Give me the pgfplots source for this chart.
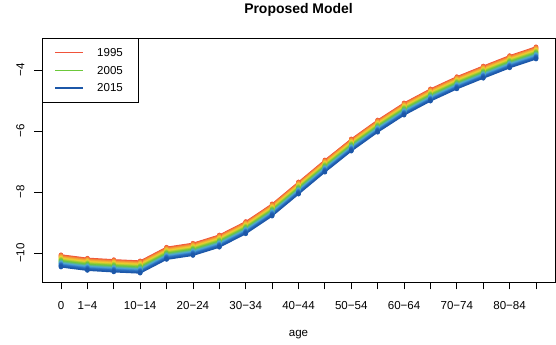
\documentclass[border=0pt]{standalone}
\usepackage{fontspec}
\setmainfont{Liberation Sans}
\usepackage{pgfplots}
\usepackage{pgfplotstable}
\pgfplotsset{compat=1.18}

% log mortality rate by age group (rows) and year (columns)
\pgfplotstableread{
age y1995 y1996 y1997 y1998 y1999 y2000 y2001 y2002 y2003 y2004 y2005 y2006 y2007 y2008 y2009 y2010 y2011 y2012 y2013 y2014 y2015
0  -10.06 -10.08 -10.10 -10.12 -10.14 -10.16 -10.18 -10.20 -10.22 -10.24 -10.26 -10.28 -10.30 -10.32 -10.34 -10.36 -10.38 -10.40 -10.42 -10.44 -10.46
1  -10.17 -10.19 -10.21 -10.23 -10.25 -10.27 -10.29 -10.31 -10.33 -10.35 -10.37 -10.39 -10.41 -10.43 -10.45 -10.47 -10.49 -10.51 -10.53 -10.55 -10.57
2  -10.22 -10.24 -10.26 -10.28 -10.30 -10.32 -10.34 -10.36 -10.38 -10.40 -10.42 -10.44 -10.46 -10.48 -10.50 -10.52 -10.54 -10.56 -10.58 -10.60 -10.62
3  -10.26 -10.28 -10.30 -10.32 -10.34 -10.36 -10.38 -10.40 -10.42 -10.44 -10.46 -10.48 -10.50 -10.52 -10.54 -10.56 -10.58 -10.60 -10.62 -10.64 -10.66
4  -9.81 -9.83 -9.85 -9.87 -9.89 -9.91 -9.93 -9.95 -9.97 -9.99 -10.01 -10.03 -10.05 -10.07 -10.09 -10.11 -10.13 -10.15 -10.17 -10.19 -10.21
5  -9.68 -9.70 -9.72 -9.74 -9.76 -9.78 -9.80 -9.82 -9.84 -9.86 -9.88 -9.90 -9.92 -9.94 -9.96 -9.98 -10.00 -10.02 -10.04 -10.06 -10.08
6  -9.41 -9.43 -9.45 -9.47 -9.49 -9.51 -9.53 -9.55 -9.57 -9.59 -9.61 -9.63 -9.65 -9.67 -9.69 -9.71 -9.73 -9.75 -9.77 -9.79 -9.81
7  -8.97 -8.99 -9.01 -9.03 -9.05 -9.07 -9.09 -9.11 -9.13 -9.15 -9.17 -9.19 -9.21 -9.23 -9.25 -9.27 -9.29 -9.31 -9.33 -9.35 -9.37
8  -8.39 -8.41 -8.43 -8.45 -8.47 -8.49 -8.51 -8.53 -8.55 -8.57 -8.59 -8.61 -8.63 -8.65 -8.67 -8.69 -8.71 -8.73 -8.75 -8.77 -8.79
9  -7.67 -7.69 -7.71 -7.73 -7.75 -7.77 -7.79 -7.81 -7.83 -7.85 -7.87 -7.89 -7.91 -7.93 -7.95 -7.97 -7.99 -8.01 -8.03 -8.05 -8.07
10 -6.95 -6.97 -6.99 -7.01 -7.03 -7.05 -7.07 -7.09 -7.11 -7.13 -7.15 -7.17 -7.19 -7.21 -7.23 -7.25 -7.27 -7.29 -7.31 -7.33 -7.35
11 -6.26 -6.28 -6.30 -6.32 -6.34 -6.36 -6.38 -6.40 -6.42 -6.44 -6.46 -6.48 -6.50 -6.52 -6.54 -6.56 -6.58 -6.60 -6.62 -6.64 -6.66
12 -5.64 -5.66 -5.68 -5.70 -5.72 -5.74 -5.76 -5.78 -5.80 -5.82 -5.84 -5.86 -5.88 -5.90 -5.92 -5.94 -5.96 -5.98 -6.00 -6.02 -6.04
13 -5.08 -5.10 -5.12 -5.14 -5.16 -5.18 -5.20 -5.22 -5.24 -5.26 -5.28 -5.30 -5.32 -5.34 -5.36 -5.38 -5.40 -5.42 -5.44 -5.46 -5.48
14 -4.62 -4.64 -4.66 -4.68 -4.70 -4.72 -4.74 -4.76 -4.78 -4.80 -4.82 -4.84 -4.86 -4.88 -4.90 -4.92 -4.94 -4.96 -4.98 -5.00 -5.02
15 -4.22 -4.24 -4.26 -4.28 -4.30 -4.32 -4.34 -4.36 -4.38 -4.40 -4.42 -4.44 -4.46 -4.48 -4.50 -4.52 -4.54 -4.56 -4.58 -4.60 -4.62
16 -3.87 -3.89 -3.91 -3.93 -3.95 -3.97 -3.99 -4.01 -4.03 -4.05 -4.07 -4.09 -4.11 -4.13 -4.15 -4.17 -4.19 -4.21 -4.23 -4.25 -4.27
17 -3.53 -3.55 -3.57 -3.59 -3.61 -3.63 -3.65 -3.67 -3.69 -3.71 -3.73 -3.75 -3.77 -3.79 -3.81 -3.83 -3.85 -3.87 -3.89 -3.91 -3.93
18 -3.24 -3.26 -3.28 -3.30 -3.32 -3.34 -3.36 -3.38 -3.40 -3.42 -3.44 -3.46 -3.48 -3.50 -3.52 -3.54 -3.56 -3.58 -3.60 -3.62 -3.64
}\ratetable

% rainbow palette running from 1995 (red) to 2015 (blue)
\definecolor{kR}{HTML}{F0533A}
\definecolor{kO}{HTML}{F59B36}
\definecolor{kY}{HTML}{EDD12E}
\definecolor{kG}{HTML}{6CC83A}
\definecolor{kL}{HTML}{4DA6D9}
\definecolor{kB}{HTML}{2A6FC0}
\definecolor{kD}{HTML}{1C57A8}
\colorlet{c1995}{kR}
\colorlet{c1996}{kR!67!kO}
\colorlet{c1997}{kR!33!kO}
\colorlet{c1998}{kO}
\colorlet{c1999}{kO!67!kY}
\colorlet{c2000}{kO!33!kY}
\colorlet{c2001}{kY}
\colorlet{c2002}{kY!75!kG}
\colorlet{c2003}{kY!50!kG}
\colorlet{c2004}{kY!25!kG}
\colorlet{c2005}{kG}
\colorlet{c2006}{kG!75!kL}
\colorlet{c2007}{kG!50!kL}
\colorlet{c2008}{kG!25!kL}
\colorlet{c2009}{kL}
\colorlet{c2010}{kL!67!kB}
\colorlet{c2011}{kL!33!kB}
\colorlet{c2012}{kB}
\colorlet{c2013}{kB!67!kD}
\colorlet{c2014}{kB!33!kD}
\colorlet{c2015}{kD}

\begin{document}
\begin{tikzpicture}
% page frame: the axis box sits at (0,0)-(513bp,244bp)
\useasboundingbox (-42bp,-63bp) rectangle (514bp,282bp);
\begin{axis}[
  at={(0,0)}, anchor=south west,
  scale only axis,
  width=513bp, height=244bp,
  xmin=-0.72, xmax=18.72,
  ymin=-10.951, ymax=-2.951,
  axis line style={line width=0.8bp},
  tick style={line width=0.8bp, black},
  tick align=outside,
  major tick length=7.5bp,
  xtick={0,...,18},
  xticklabels={0,1−4,,10−14,,20−24,,30−34,,40−44,,50−54,,60−64,,70−74,,80−84,},
  ytick={-10,-8,-6,-4},
  yticklabels={−10,−8,−6,−4},
  xtick pos=bottom, ytick pos=left,
  font=\fontsize{11.6}{14}\selectfont,
  xticklabel style={anchor=base, yshift=-19.5bp},
  yticklabel style={rotate=90, anchor=base, yshift=10bp},
  xlabel={age},
  xlabel style={at={(axis description cs:0.5,0)}, anchor=base, yshift=-54bp},
  title={\bfseries Proposed Model},
  title style={at={(axis description cs:0.5,1)}, anchor=base, yshift=19bp, font=\fontsize{14}{16}\selectfont},
]
\pgfplotsinvokeforeach{1995,...,2015}{
  \addplot[color=c#1, line width=1.1bp, mark=*, mark size=2.1bp,
    mark options={solid, line width=0.4bp}]
    table[x=age, y=y#1] {\ratetable};
}
% key in the upper left corner
\filldraw[draw=black, fill=white, line width=0.8bp]
  (axis description cs:0,1) rectangle ++(96bp,-64bp);
\draw[c1995, line width=1.4bp] (axis description cs:0,1) ++(13bp,-14.7bp) -- ++(28bp,0bp);
\draw[c2005, line width=1.4bp] (axis description cs:0,1) ++(13bp,-32.7bp) -- ++(28bp,0bp);
\draw[c2015, line width=1.4bp] (axis description cs:0,1) ++(13bp,-50bp) -- ++(28bp,0bp);
\path (axis description cs:0,1) ++(55bp,-14.7bp) node[anchor=west, inner sep=0pt] {1995};
\path (axis description cs:0,1) ++(55bp,-32.7bp) node[anchor=west, inner sep=0pt] {2005};
\path (axis description cs:0,1) ++(55bp,-50bp) node[anchor=west, inner sep=0pt] {2015};
\end{axis}
\end{tikzpicture}
\end{document}
